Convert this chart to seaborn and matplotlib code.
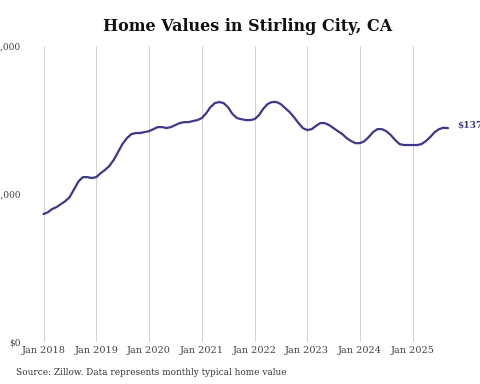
import pandas as pd
import matplotlib.pyplot as plt
import matplotlib.dates as mdates
import matplotlib.ticker as mticker
import seaborn as sns

# monthly typical home value, Jan 2018 - Sep 2025
values = [
    82200, 83400, 85400, 86700, 88600, 90500, 93100, 98200, 103300, 105900, 105900, 105300,
    105900, 108500, 110400, 113000, 116800, 122000, 127100, 130900, 133500, 134200, 134200, 134800,
    135400, 136700, 138000, 138000, 137400, 138000, 139300, 140600, 141200, 141200, 141900, 142500,
    143800, 147000, 150800, 153400, 154100, 153400, 150800, 146400, 143800, 143100, 142500, 142500,
    143100, 145700, 149600, 152800, 154100, 154100, 152800, 150200, 147600, 144400, 140600, 137400,
    136100, 136700, 138700, 140600, 140600, 139300, 137400, 135400, 133500, 130900, 129000, 127700,
    127700, 129000, 131600, 134800, 136700, 136700, 135400, 132900, 129700, 127100, 126500, 126500,
    126500, 126500, 127100, 129000, 131600, 134800, 136700, 137600, 137367,
]
dates = pd.date_range('2018-01-01', periods=len(values), freq='MS')
y_ticks = [0, 95000, 190000]

df = pd.DataFrame({'date': dates, 'value': values})

sns.set_style("white")
plt.rcParams['font.family'] = ['DejaVu Serif']

fig = plt.figure(figsize=(4.8, 3.84), dpi=100)
ax = fig.add_axes([0.054, 0.109, 0.894, 0.771])

sns.lineplot(data=df, x='date', y='value', color='#3d3889', linewidth=1.6, ax=ax)

ax.set_ylim(0, 190000)
ax.set_xlim(pd.Timestamp('2017-09-01'), pd.Timestamp('2025-10-20'))
ax.set_yticks(y_ticks)
ax.yaxis.set_major_formatter(mticker.FuncFormatter(lambda v, p: f'${v:,.0f}'))
ax.xaxis.set_major_locator(mdates.YearLocator())
ax.xaxis.set_major_formatter(mdates.DateFormatter('%b %Y'))

ax.grid(axis='x', color='#d4d4d4', linewidth=0.8)
ax.grid(axis='y', visible=False)
for s in ax.spines.values():
    s.set_visible(False)
ax.tick_params(axis='both', length=0, labelsize=7, colors='#444444')
ax.tick_params(axis='y', pad=4, labelsize=6.5)
ax.tick_params(axis='x', pad=3)
ax.set_xlabel('')
ax.set_ylabel('')

ax.annotate(f'${values[-1]:,.0f}', xy=(dates[-1], values[-1]), xytext=(7, 2),
            textcoords='offset points', fontsize=6.5, fontweight='bold',
            color='#3d3889', va='center', annotation_clip=False)

fig.text(0.515, 0.93, 'Home Values in Stirling City, CA', ha='center', va='center',
         fontsize=11.5, fontweight='bold', color='#111111')
fig.text(0.033, 0.031, 'Source: Zillow. Data represents monthly typical home value',
         ha='left', va='center', fontsize=6.4, color='#333333')

fig.savefig('out.png', dpi=100)
